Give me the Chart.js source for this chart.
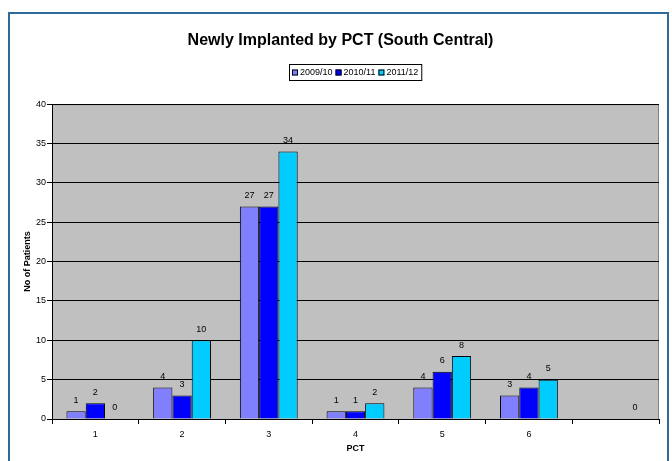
<!DOCTYPE html>
<html>
<head>
<meta charset="utf-8">
<title>Newly Implanted by PCT (South Central)</title>
<script src="https://cdn.jsdelivr.net/npm/chart.js@4.4.1/dist/chart.umd.min.js"></script>
<style>
  body { margin: 0; background: #fff; }
  canvas { display: block; }
</style>
</head>
<body>
<canvas id="pctChart" width="672" height="461"></canvas>
<script>
// values
const categories = ['1', '2', '3', '4', '5', '6', ''];
const seriesNames = ['2009/10', '2010/11', '2011/12'];
const values0910 = [1, 4, 27, 1, 4, 3, null];
const values1011 = [2, 3, 27, 1, 6, 4, null];
const values1112 = [0, 10, 34, 2, 8, 5, 0];
const yMin = 0;
const yMax = 40;
const yStep = 5;

const FONT = "'Liberation Sans', Arial, sans-serif";
const colours = ['#8080ff', '#0000ff', '#00ccff'];

// background frame + grey plot area like the excel original
const framePlugin = {
  id: 'frame',
  beforeDraw: function(chart){
    const ctx = chart.ctx;
    const area = chart.chartArea;
    ctx.save();
    ctx.strokeStyle = '#2f6b9a';
    ctx.lineWidth = 2;
    ctx.strokeRect(9, 13, 659, 470);
    ctx.fillStyle = '#c0c0c0';
    ctx.fillRect(area.left, area.top, area.right - area.left, area.bottom - area.top);
    ctx.strokeStyle = '#808080';
    ctx.lineWidth = 1;
    ctx.strokeRect(area.left + 0.5, area.top + 0.5, area.right - area.left - 1, area.bottom - area.top);
    ctx.restore();
  }
};

// value labels above each bar
const valueLabels = {
  id: 'valueLabels',
  afterDatasetsDraw: function(chart){
    const ctx = chart.ctx;
    ctx.save();
    ctx.font = '9px ' + FONT;
    ctx.fillStyle = '#000';
    ctx.textAlign = 'center';
    ctx.textBaseline = 'middle';
    chart.data.datasets.forEach(function(ds, i){
      const meta = chart.getDatasetMeta(i);
      meta.data.forEach(function(bar, j){
        const v = ds.data[j];
        if(v === null || v === undefined) return;
        ctx.fillText(String(v), bar.x, bar.y - 11);
      });
    });
    ctx.restore();
  }
};

// boxed legend under the title
const boxedLegend = {
  id: 'boxedLegend',
  afterDraw: function(chart){
    const ctx = chart.ctx;
    const area = chart.chartArea;
    const sq = 6, gap = 2, itemGap = 3, padX = 3;
    ctx.save();
    ctx.font = '9px ' + FONT;
    const widths = chart.data.datasets.map(function(ds){ return ctx.measureText(ds.label).width; });
    let total = padX * 2;
    widths.forEach(function(w, i){ total += sq + gap + w + (i < widths.length - 1 ? itemGap : 0); });
    const top = 64, h = 16;
    const left = Math.round((area.left + area.right) / 2 - total / 2);
    ctx.fillStyle = '#fff';
    ctx.fillRect(left, top, total, h);
    ctx.strokeStyle = '#000';
    ctx.lineWidth = 1;
    ctx.strokeRect(left + 0.5, top + 0.5, total, h);
    let x = left + padX;
    const cy = top + h / 2 + 0.5;
    ctx.textBaseline = 'middle';
    chart.data.datasets.forEach(function(ds, i){
      ctx.fillStyle = ds.backgroundColor;
      ctx.fillRect(x, cy - sq / 2, sq, sq);
      ctx.strokeStyle = '#000';
      ctx.strokeRect(x + 0.5, cy - sq / 2 + 0.5, sq - 1, sq - 1);
      x += sq + gap;
      ctx.fillStyle = '#000';
      ctx.fillText(ds.label, x, cy);
      x += widths[i] + itemGap;
    });
    ctx.restore();
  }
};

const ctx = document.getElementById('pctChart').getContext('2d');
// eslint-disable-next-line no-undef
const chart = new Chart(ctx, {
  type: 'bar',
  data: {
    labels: categories,
    datasets: [
      { label: seriesNames[0], data: values0910, backgroundColor: colours[0] },
      { label: seriesNames[1], data: values1011, backgroundColor: colours[1] },
      { label: seriesNames[2], data: values1112, backgroundColor: colours[2] }
    ]
  },
  options: {
    responsive: false,
    animation: false,
    layout: { padding: { left: 22, right: 13, top: 0, bottom: 0 } },
    datasets: {
      bar: {
        borderColor: '#000',
        borderWidth: 1,
        borderSkipped: 'bottom',
        categoryPercentage: 0.667,
        barPercentage: 1
      }
    },
    plugins: {
      legend: { display: false },
      tooltip: { enabled: false },
      title: {
        display: true,
        text: 'Newly Implanted by PCT (South Central)',
        color: '#000',
        font: { family: FONT, size: 16, weight: 'bold' },
        padding: { top: 31, bottom: 54 }
      }
    },
    scales: {
      x: {
        grid: { drawOnChartArea: false, offset: true, color: '#000', tickLength: 5 },
        border: { color: '#000' },
        ticks: { color: '#000', font: { family: FONT, size: 9 }, padding: 5, maxRotation: 0 },
        title: {
          display: true,
          text: 'PCT',
          color: '#000',
          font: { family: FONT, size: 9, weight: 'bold' },
          padding: { top: 0, bottom: 7 }
        },
        afterFit: function(scale){ scale.height = 42; }
      },
      y: {
        min: yMin,
        max: yMax,
        grid: { color: '#000', tickLength: 5 },
        border: { color: '#000' },
        ticks: { stepSize: yStep, color: '#000', font: { family: FONT, size: 9 }, padding: 1 },
        title: {
          display: true,
          text: 'No of Patients',
          color: '#000',
          font: { family: FONT, size: 9, weight: 'bold' },
          padding: 0
        },
        afterFit: function(scale){ scale.width = 30; }
      }
    }
  },
  plugins: [framePlugin, valueLabels, boxedLegend]
});
</script>
</body>
</html>
